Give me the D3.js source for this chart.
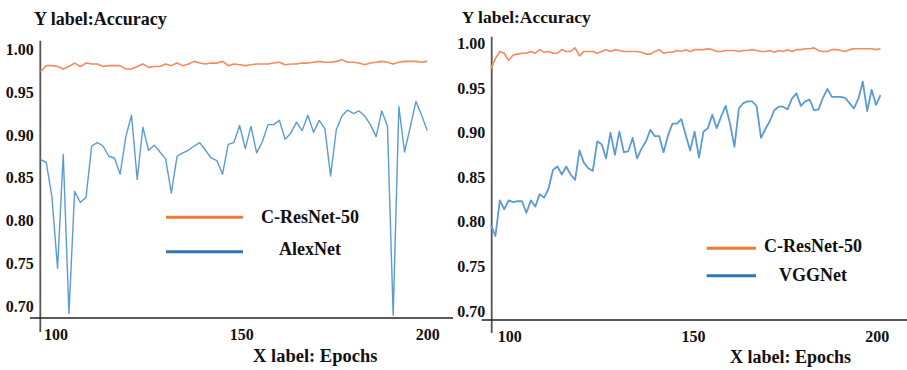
<!DOCTYPE html>
<html>
<head>
<meta charset="utf-8">
<script src="https://cdn.jsdelivr.net/npm/d3@7"></script>
<style>
  body { margin: 0; background: #fff; }
  svg { display: block; font-family: "Liberation Serif", "Times New Roman", serif; font-weight: bold; }
</style>
</head>
<body>
<div id="chart"></div>
<script>
// tick labels
var yTicks = [0.70, 0.75, 0.80, 0.85, 0.90, 0.95, 1.00]
var xTicks = [100, 150, 200]

// left panel: C-ResNet-50 vs AlexNet, epochs 96..200
var leftEpochs = [96, 200]
var leftResNet = [0.974, 0.981, 0.981, 0.980, 0.977, 0.980, 0.984, 0.980, 0.984, 0.983,
  0.983, 0.980, 0.981, 0.981, 0.981, 0.977, 0.977, 0.980, 0.983, 0.979,
  0.980, 0.980, 0.983, 0.981, 0.984, 0.981, 0.983, 0.986, 0.984, 0.983,
  0.984, 0.984, 0.986, 0.981, 0.983, 0.982, 0.981, 0.982, 0.983, 0.983,
  0.983, 0.984, 0.985, 0.982, 0.983, 0.983, 0.984, 0.984, 0.985, 0.986,
  0.985, 0.985, 0.986, 0.988, 0.985, 0.985, 0.984, 0.982, 0.984, 0.985,
  0.986, 0.985, 0.983, 0.985, 0.986, 0.986, 0.986, 0.985, 0.986]
var alexNet = [0.871, 0.868, 0.828, 0.744, 0.877, 0.691, 0.834, 0.821, 0.827, 0.887,
  0.891, 0.887, 0.875, 0.873, 0.854, 0.898, 0.923, 0.848, 0.909, 0.882,
  0.888, 0.880, 0.872, 0.832, 0.875, 0.879, 0.882, 0.887, 0.891, 0.882,
  0.873, 0.870, 0.854, 0.889, 0.891, 0.911, 0.884, 0.910, 0.879, 0.892,
  0.912, 0.912, 0.917, 0.895, 0.902, 0.915, 0.905, 0.923, 0.903, 0.917,
  0.907, 0.852, 0.906, 0.922, 0.929, 0.925, 0.928, 0.922, 0.912, 0.898,
  0.928, 0.910, 0.689, 0.933, 0.880, 0.909, 0.939, 0.923, 0.905]

// right panel: C-ResNet-50 vs VGGNet, epochs 95..201
var rightEpochs = [95, 201]
var rightResNet = [0.972, 0.983, 0.991, 0.989, 0.981, 0.987, 0.988, 0.989, 0.989, 0.991,
  0.989, 0.993, 0.990, 0.991, 0.989, 0.989, 0.993, 0.991, 0.991, 0.995,
  0.986, 0.991, 0.991, 0.991, 0.989, 0.991, 0.993, 0.991, 0.993, 0.992,
  0.991, 0.991, 0.991, 0.991, 0.990, 0.988, 0.988, 0.991, 0.993, 0.989,
  0.990, 0.990, 0.992, 0.991, 0.993, 0.991, 0.993, 0.993, 0.993, 0.994,
  0.993, 0.991, 0.991, 0.992, 0.992, 0.992, 0.991, 0.992, 0.992, 0.993,
  0.992, 0.991, 0.991, 0.992, 0.990, 0.992, 0.991, 0.993, 0.991, 0.993,
  0.993, 0.994, 0.994, 0.995, 0.992, 0.991, 0.991, 0.993, 0.993, 0.992,
  0.991, 0.993, 0.994, 0.994, 0.994, 0.994, 0.994, 0.993, 0.994]
var vggNet = [0.796, 0.784, 0.824, 0.814, 0.824, 0.822, 0.823, 0.823, 0.810, 0.824,
  0.817, 0.831, 0.827, 0.837, 0.858, 0.862, 0.853, 0.862, 0.853, 0.847,
  0.880, 0.866, 0.860, 0.857, 0.890, 0.887, 0.871, 0.900, 0.875, 0.901,
  0.878, 0.879, 0.894, 0.871, 0.882, 0.890, 0.903, 0.896, 0.896, 0.878,
  0.897, 0.910, 0.910, 0.915, 0.897, 0.880, 0.901, 0.872, 0.901, 0.905,
  0.920, 0.905, 0.918, 0.930, 0.910, 0.884, 0.927, 0.933, 0.935, 0.935,
  0.930, 0.894, 0.904, 0.913, 0.925, 0.929, 0.929, 0.926, 0.938, 0.944,
  0.930, 0.935, 0.937, 0.925, 0.926, 0.939, 0.949, 0.940, 0.940, 0.940,
  0.939, 0.933, 0.927, 0.938, 0.957, 0.924, 0.948, 0.931, 0.942]

var colors = {
  resLine: "#f58a5c", resKey: "#ed7d31",
  baseLine: "#5b9bd5", baseKey: "#2e75b6"
}

var svg = d3.select("#chart").append("svg")
  .attr("width", 907)
  .attr("height", 370)

var panels = [
  { res: leftResNet, base: alexNet, baseName: "AlexNet", epochs: leftEpochs,
    xRange: [40.5, 427.3], yRange: [305.9, 49.4], axisX: 40.3, axisY: 318,
    yTop: 40.7, yBottom: 332, xLeft: 30, xRight: 453,
    title: [34, 25, 18], xlabel: [253, 362, 18.5], baseWidth: 1.4,
    key: { x1: 166, x2: 243, y1: 217.3, y2: 251.7, tx: 310, t1: 223.3, t2: 255 } },
  { res: rightResNet, base: vggNet, baseName: "VGGNet", epochs: rightEpochs,
    xRange: [491, 880.5], yRange: [310.9, 43.4], axisX: 491.7, axisY: 320,
    yTop: 36.7, yBottom: 333, xLeft: 481.7, xRight: 907,
    title: [461.7, 23.3, 17.5], xlabel: [730, 363, 18], baseWidth: 1.8,
    key: { x1: 706.7, x2: 756, y1: 248.3, y2: 275.7, tx: 813, t1: 251.7, t2: 280.7 } }
]

panels.forEach(p => {
  var n = p.res.length
  var xScale = d3.scaleLinear().domain(p.epochs).range(p.xRange)
  var yScale = d3.scaleLinear().domain([0.70, 1.00]).range(p.yRange)
  var epochAt = i => p.epochs[0] + i * (p.epochs[1] - p.epochs[0]) / (n - 1)

  var g = svg.append("g")

  // axis lines (they overrun each other a little, like the original)
  g.append("line").attr("x1", p.axisX).attr("x2", p.axisX)
    .attr("y1", p.yTop).attr("y2", p.yBottom)
    .attr("stroke", "#555").attr("stroke-width", 1.8)
  g.append("line").attr("x1", p.xLeft).attr("x2", p.xRight)
    .attr("y1", p.axisY).attr("y2", p.axisY)
    .attr("stroke", "#222").attr("stroke-width", 1.5)

  var leftAxis = d3.axisLeft(yScale).tickValues(yTicks).tickFormat(d3.format(".2f"))
    .tickSize(0).tickPadding(6.5)
  var yAxis = g.append("g").attr("transform", `translate(${p.axisX},0)`).call(leftAxis)
    .attr("font-family", null).attr("font-size", 16)
  yAxis.select(".domain").remove()
  yAxis.selectAll("text").attr("fill", "#111")

  var bottomAxis = d3.axisBottom(xScale).tickValues(xTicks).tickSize(0).tickPadding(10.5)
  var xAxis = g.append("g").attr("transform", `translate(0,${p.axisY})`).call(bottomAxis)
    .attr("font-family", null).attr("font-size", 16)
  xAxis.select(".domain").remove()
  xAxis.selectAll("text").attr("fill", "#111")

  var line = d3.line().x((d, i) => xScale(epochAt(i))).y(d => yScale(d))

  g.append("path").datum(p.res).attr("d", line)
    .attr("fill", "none").attr("stroke", colors.resLine).attr("stroke-width", 1.6)
    .attr("stroke-linejoin", "round")
  g.append("path").datum(p.base).attr("d", line)
    .attr("fill", "none").attr("stroke", colors.baseLine).attr("stroke-width", p.baseWidth)
    .attr("stroke-linejoin", "round")

  g.append("text").attr("x", p.title[0]).attr("y", p.title[1])
    .attr("font-size", p.title[2]).attr("fill", "#111").text("Y label:Accuracy")
  g.append("text").attr("x", p.xlabel[0]).attr("y", p.xlabel[1])
    .attr("font-size", p.xlabel[2]).attr("fill", "#111").text("X label: Epochs")

  // legend
  var k = p.key
  g.append("line").attr("x1", k.x1).attr("x2", k.x2).attr("y1", k.y1).attr("y2", k.y1)
    .attr("stroke", colors.resKey).attr("stroke-width", 3)
  g.append("line").attr("x1", k.x1).attr("x2", k.x2).attr("y1", k.y2).attr("y2", k.y2)
    .attr("stroke", colors.baseKey).attr("stroke-width", 3)
  g.append("text").attr("x", k.tx).attr("y", k.t1).attr("text-anchor", "middle")
    .attr("font-size", 18).attr("fill", "#111").text("C-ResNet-50")
  g.append("text").attr("x", k.tx).attr("y", k.t2).attr("text-anchor", "middle")
    .attr("font-size", 18).attr("fill", "#111").text(p.baseName)
})
</script>
</body>
</html>
